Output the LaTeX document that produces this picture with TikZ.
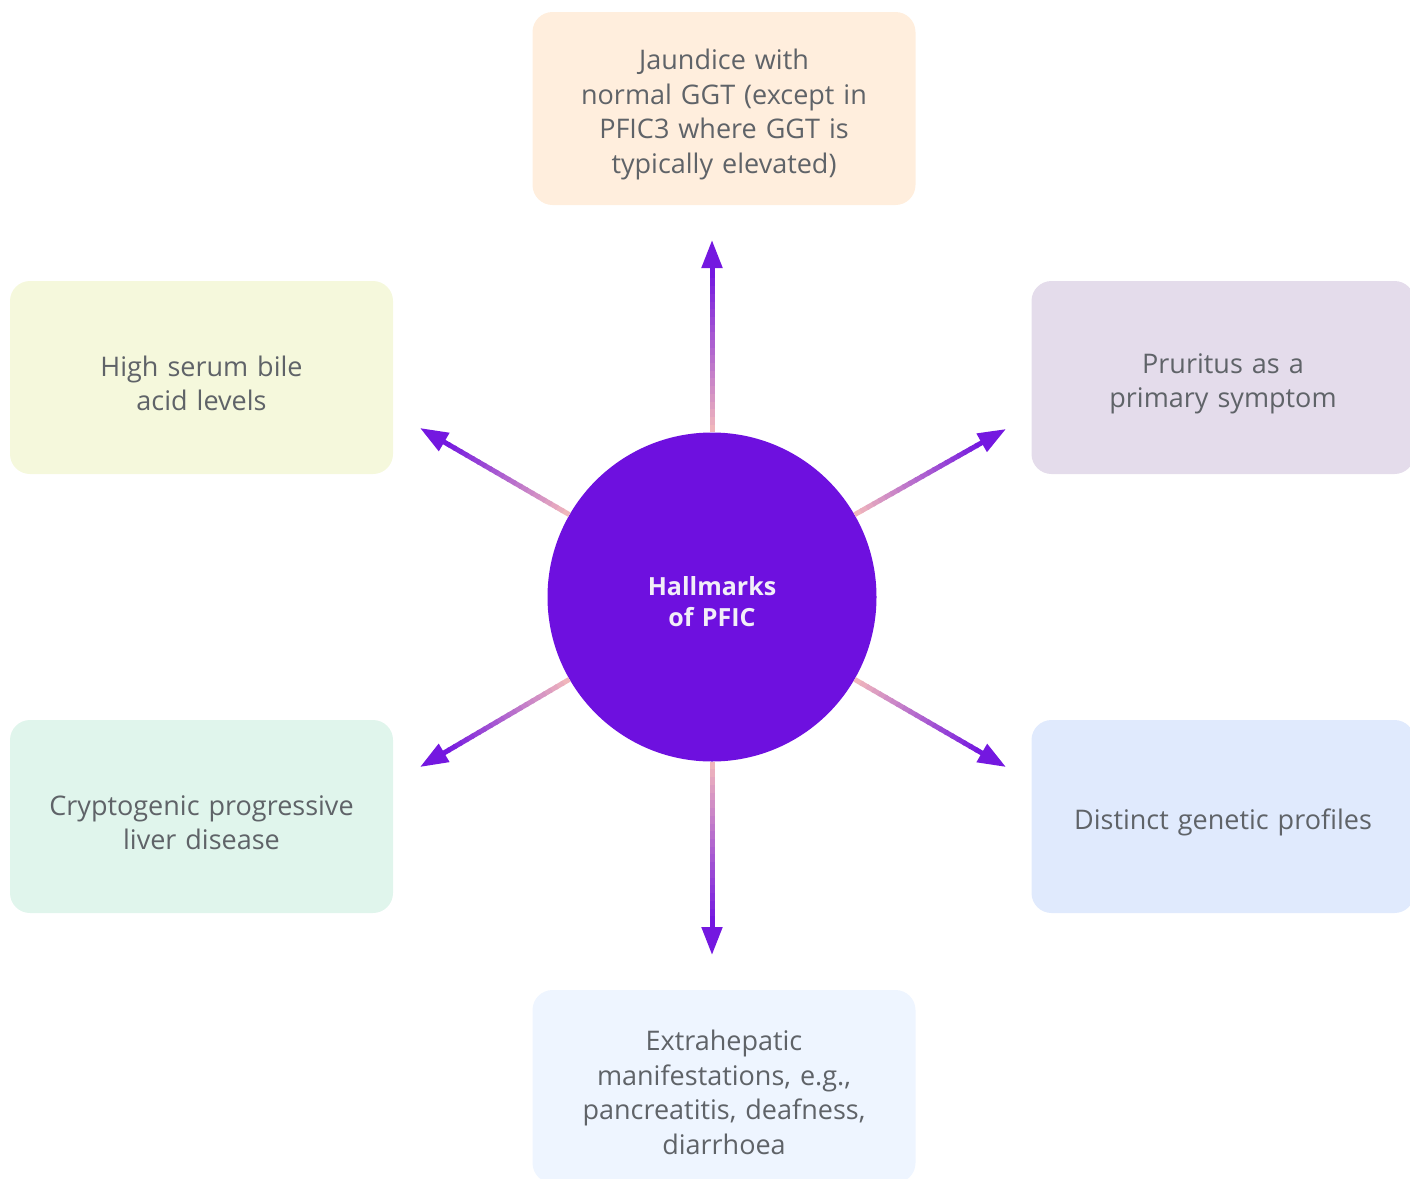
\documentclass[tikz,border=0pt]{standalone}
\usepackage{fontspec}
\setmainfont{Open Sans}
\usepackage{tikz}
\usetikzlibrary{arrows.meta,calc}
\definecolor{hubviolet}{HTML}{6E10DF}
\definecolor{arrowviolet}{HTML}{7418E0}
\definecolor{arrowpink}{HTML}{F0B6BC}
\definecolor{bodygray}{HTML}{5F6368}
\definecolor{hubtext}{HTML}{F2EEF8}
\definecolor{peachfill}{HTML}{FFEEDD}
\definecolor{limefill}{HTML}{F5F8DC}
\definecolor{lilacfill}{HTML}{E4DCEB}
\definecolor{mintfill}{HTML}{E0F5EC}
\definecolor{skyfill}{HTML}{E0EAFD}
\definecolor{icefill}{HTML}{EEF5FF}
\tikzset{
  hub/.style={
    circle,
    fill=hubviolet,
    minimum size=329pt,
    inner sep=0pt,
    text width=200pt,
    align=center,
    text=hubtext,
    font=\fontsize{25}{31}\selectfont\bfseries,
    execute at begin node={\rule{0pt}{29pt}}
  },
  hallmark/.style={
    rectangle,
    rounded corners=20pt,
    minimum width=383pt,
    minimum height=193pt,
    text width=370pt,
    align=center,
    text=bodygray,
    font=\fontsize{27}{34.5}\selectfont,
    execute at begin node={\rule{0pt}{32.5pt}}
  },
  tip/.style={-{Triangle[length=28pt,width=20pt]},line width=5pt,draw=arrowviolet}
}
% gradient spoke: pink at the hub, violet at the head
\newcommand\gradspoke[2]{%
  \foreach \k [evaluate=\k as \a using \k/25,
               evaluate=\k as \b using (\k+1.3)/25,
               evaluate=\k as \p using 100-\k*5] in {0,...,19}{
    \draw[line width=5pt,draw=arrowpink!\p!arrowviolet]
      ($(#1)!\a!(#2)$) -- ($(#1)!\b!(#2)$);
  }
  \draw[tip] ($(#1)!0.8!(#2)$) -- (#2);
}

\begin{document}
\begin{tikzpicture}[x=1pt,y=-1pt]
  \useasboundingbox (0,0) rectangle (1410,1178);

  \node[hub] (hub) at (712,597) {Hallmarks\\of PFIC};

  \node[hallmark,fill=peachfill] (jaundice) at (724,108.5) {%
    Jaundice with\\
    normal GGT (except in\\
    PFIC3 where GGT is\\
    typically elevated)
  };

  \node[hallmark,fill=limefill] (bileacid) at (201.5,377.5) {%
    High serum bile\\
    acid levels
  };

  \node[hallmark,fill=lilacfill] (pruritus) at (1223,377.5) {%
    Pruritus as a\\
    primary symptom
  };

  \node[hallmark,fill=mintfill] (liver) at (201.5,816.5) {%
    Cryptogenic progressive\\
    liver disease
  };

  \node[hallmark,fill=skyfill] (genetic) at (1223,816.5) {%
    Distinct genetic profiles
  };

  \node[hallmark,fill=icefill] (extra) at (724,1086.5) {%
    Extrahepatic\\
    manifestations, e.g.,\\
    pancreatitis, deafness,\\
    diarrhoea
  };

  % spoke ends
  \coordinate (sN) at (hub.90);
  \coordinate (sNW) at (hub.150);
  \coordinate (sNE) at (hub.30);
  \coordinate (sSW) at (hub.210);
  \coordinate (sSE) at (hub.330);
  \coordinate (sS) at (hub.270);
  \coordinate (tN) at (712,240);
  \coordinate (tNW) at (420,428);
  \coordinate (tNE) at (1006,429);
  \coordinate (tSW) at (420,767);
  \coordinate (tSE) at (1006,767);
  \coordinate (tS) at (712,955);

  \gradspoke{sN}{tN}
  \gradspoke{sNW}{tNW}
  \gradspoke{sNE}{tNE}
  \gradspoke{sSW}{tSW}
  \gradspoke{sSE}{tSE}
  \gradspoke{sS}{tS}
\end{tikzpicture}
\end{document}
